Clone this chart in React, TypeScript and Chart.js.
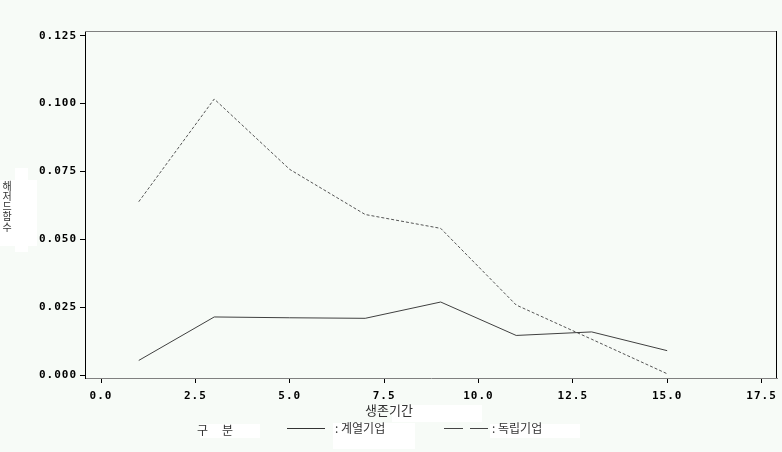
import React, { useEffect, useRef } from "react";
import { Chart, registerables } from "chart.js";

Chart.register(...registerables);

const periods = [1, 3, 5, 7, 9, 11, 13, 15];
const affiliated = [0.0055, 0.0215, 0.0212, 0.021, 0.027, 0.0147, 0.016, 0.0091];
const independent = [0.0639, 0.1017, 0.0758, 0.0592, 0.0541, 0.0259, 0.0133, 0.0006];
const xTicks = [0, 2.5, 5, 7.5, 10, 12.5, 15, 17.5];
const yTicks = [0, 0.025, 0.05, 0.075, 0.1, 0.125];
const seriesNames = ["계열기업", "독립기업"];
const xTitle = "생존기간";
const yTitle = "해저드함수";
const legendTitle = "구 분";

const BG = "#F7FBF7";
const KFONT = "'Noto Sans CJK KR', 'Noto Sans', sans-serif";

const decor = {
  id: "decor",
  beforeDraw(chart: any) {
    const ctx = chart.ctx;
    ctx.save();
    ctx.fillStyle = BG;
    ctx.fillRect(0, 0, chart.width, chart.height);
    ctx.fillStyle = "#FFFFFF";
    // white boxes behind texts
    ctx.fillRect(0, 180, 37, 66);
    ctx.fillRect(15, 168, 13, 84);
    ctx.fillRect(392, 405, 90, 17);
    ctx.fillRect(200, 424, 60, 14);
    ctx.fillRect(333, 423, 82, 26);
    ctx.fillRect(490, 424, 90, 14);
    ctx.restore();
    (ctx as any).letterSpacing = "1px";
  },
  afterDraw(chart: any) {
    const ctx = chart.ctx;
    (ctx as any).letterSpacing = "0px";
    const a = chart.chartArea;
    ctx.save();
    // frame top and right
    ctx.lineWidth = 1;
    ctx.strokeStyle = "#808080";
    ctx.beginPath();
    ctx.moveTo(a.left, a.top + 0.5);
    ctx.lineTo(a.right, a.top + 0.5);
    ctx.stroke();
    ctx.strokeStyle = "#000000";
    ctx.beginPath();
    ctx.moveTo(a.right - 0.5, a.top);
    ctx.lineTo(a.right - 0.5, a.bottom);
    ctx.stroke();

    ctx.fillStyle = "#333333";
    ctx.textBaseline = "middle";
    // x title
    ctx.font = `13px ${KFONT}`;
    ctx.textAlign = "left";
    ctx.fillText(xTitle, 365, 410);
    // y title stacked
    ctx.font = `10px ${KFONT}`;
    ctx.textAlign = "center";
    const chars = Array.from(yTitle);
    chars.forEach((c, i) => ctx.fillText(c, 7, 186 + i * 10.2));
    // legend
    ctx.font = `12px ${KFONT}`;
    ctx.textAlign = "left";
    (ctx as any).letterSpacing = "1px";
    const lt = legendTitle.split(" ");
    ctx.fillText(lt[0], 197, 430);
    ctx.fillText(lt[1], 222, 430);
    (ctx as any).letterSpacing = "0px";
    ctx.strokeStyle = "#333333";
    ctx.beginPath();
    ctx.moveTo(287, 428.5);
    ctx.lineTo(325, 428.5);
    ctx.stroke();
    ctx.fillText(": " + seriesNames[0], 335, 428.5);
    ctx.strokeStyle = "#444444";
    ctx.beginPath();
    ctx.moveTo(444, 428.5);
    ctx.lineTo(463, 428.5);
    ctx.moveTo(470, 428.5);
    ctx.lineTo(488, 428.5);
    ctx.stroke();
    ctx.fillText(": " + seriesNames[1], 492, 428.5);
    ctx.restore();
  },
};

export default function App() {
  const ref = useRef<HTMLCanvasElement>(null);
  useEffect(() => {
    document.body.style.margin = "0";
    const tickFont = { family: "'DejaVu Sans Mono', monospace", size: 11, weight: "bold" as const };
    const chart = new Chart(ref.current!, {
      type: "line",
      data: {
        datasets: [
          {
            label: seriesNames[0],
            data: periods.map((p, i) => ({ x: p, y: affiliated[i] })),
            borderColor: "#404040",
            borderWidth: 1,
            pointRadius: 0,
            tension: 0,
          },
          {
            label: seriesNames[1],
            data: periods.map((p, i) => ({ x: p, y: independent[i] })),
            borderColor: "#555555",
            borderWidth: 1,
            borderDash: [3, 2],
            pointRadius: 0,
            tension: 0,
          },
        ],
      },
      options: {
        animation: false,
        responsive: false,
        layout: { padding: { top: 31, right: 5, left: 0, bottom: 0 } },
        plugins: { legend: { display: false }, tooltip: { enabled: false } },
        scales: {
          x: {
            type: "linear",
            min: -0.424,
            max: 17.91,
            afterBuildTicks: (s: any) => {
              s.ticks = xTicks.map((v) => ({ value: v }));
            },
            afterFit: (s: any) => {
              s.height = 74;
            },
            ticks: {
              font: tickFont,
              color: "#000",
              padding: 7,
              maxRotation: 0,
              autoSkip: false,
              callback: (v: any) => Number(v).toFixed(1),
            },
            grid: { drawOnChartArea: false, drawTicks: true, tickLength: 5, color: "#000" },
            border: { display: true, color: "#808080", width: 1 },
          },
          y: {
            type: "linear",
            min: -0.00096,
            max: 0.12673,
            afterBuildTicks: (s: any) => {
              s.ticks = yTicks.map((v) => ({ value: v }));
            },
            afterFit: (s: any) => {
              s.width = 85;
            },
            ticks: {
              font: tickFont,
              color: "#000",
              padding: 3,
              autoSkip: false,
              callback: (v: any) => Number(v).toFixed(3),
            },
            grid: { drawOnChartArea: false, drawTicks: true, tickLength: 5, color: "#000" },
            border: { display: true, color: "#000", width: 1 },
          },
        },
      },
      plugins: [decor],
    });
    return () => chart.destroy();
  }, []);
  return (
    <canvas ref={ref} width={782} height={452} style={{ display: "block", width: 782, height: 452 }} />
  );
}
